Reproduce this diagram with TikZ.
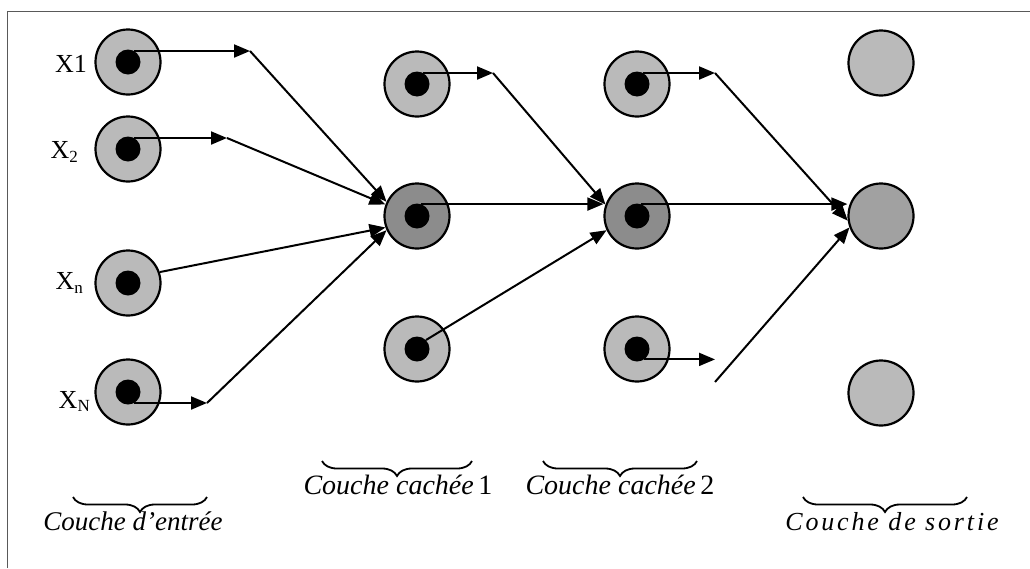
\documentclass[tikz,border=0pt]{standalone}
\usepackage{fontspec}
\setmainfont{Liberation Serif}
\usetikzlibrary{arrows.meta,decorations.pathreplacing}

\tikzset{
  neuron/.style={circle, draw=black, line width=2.2pt, minimum size=65pt, inner sep=0pt},
  lightn/.style={neuron, fill=black!27},
  midn/.style={neuron, fill=black!37},
  darkn/.style={neuron, fill=black!45},
  core/.style={circle, fill=black, minimum size=25pt, inner sep=0pt},
  conn/.style={line width=2pt, -{Triangle[length=16pt,width=13pt]}},
  frame/.style={line width=1pt, draw=black!65},
  xlbl/.style={font=\fontsize{26}{26}\selectfont, inner sep=0pt},
  layer/.style={font=\fontsize{27}{27}\selectfont\itshape, inner sep=0pt},
  lbrace/.style={decorate, decoration={brace, mirror, amplitude=15pt}, line width=1.8pt},
}
\newcommand{\sbs}[2][-4pt]{\raisebox{#1}{\fontsize{17}{17}\selectfont #2}}

\begin{document}
\begin{tikzpicture}[x=1pt,y=-1pt]
  \useasboundingbox (0,0) rectangle (1030,568);
  \draw[frame] (7,568) -- (7,11) -- (1030,11);

  % input layer
  \node[lightn] (x1) at (128,62) {};
  \node[lightn] (x2) at (128,149) {};
  \node[lightn] (xn) at (128,283) {};
  \node[lightn] (xN) at (128,392) {};
  \node[core] (x1d) at (x1) {};
  \node[core] (x2d) at (x2) {};
  \node[core] (xnd) at (xn) {};
  \node[core] (xNd) at (xN) {};

  % hidden layer 1
  \node[lightn] (h1t) at (417,84) {};
  \node[darkn]  (h1m) at (417,216) {};
  \node[lightn] (h1b) at (417,349) {};
  \node[core] (h1td) at (h1t) {};
  \node[core] (h1md) at (h1m) {};
  \node[core] (h1bd) at (h1b) {};

  % hidden layer 2
  \node[lightn] (h2t) at (637,84) {};
  \node[darkn]  (h2m) at (637,216) {};
  \node[lightn] (h2b) at (637,349) {};
  \node[core] (h2td) at (h2t) {};
  \node[core] (h2md) at (h2m) {};
  \node[core] (h2bd) at (h2b) {};

  % output layer
  \node[lightn] (ot) at (881,63) {};
  \node[midn]   (om) at (881,216) {};
  \node[lightn] (ob) at (881,393) {};

  % input labels
  \node[xlbl, anchor=base east] (lx1) at (87,72) {X1};
  \node[xlbl, anchor=base east] (lx2) at (78,158) {X\sbs{2}};
  \node[xlbl, anchor=base east] (lxn) at (83,289) {X\sbs{n}};
  \node[xlbl, anchor=base east] (lxN) at (90,408) {X\sbs[-3pt]{N}};

  % bend points of the connectors
  \coordinate (t1) at (250,0);
  \coordinate (t2) at (227,0);
  \coordinate (t4) at (207,0);
  \coordinate (t5) at (493,0);
  \coordinate (t8) at (715,0);
  \coordinate (t10) at (715,0);
  \coordinate (f11) at (715,382);

  % input -> hidden 1
  \draw[conn] (x1d.60) -- (x1d.60 -| t1);
  \draw[conn] (x1d.60 -| t1) -- (h1m.155);
  \draw[conn] (x2d.60) -- (x2d.60 -| t2);
  \draw[conn] (x2d.60 -| t2) -- (h1m.160);
  \draw[conn] (xn.19) -- (h1m.200);
  \draw[conn] (xNd.-60) -- (xNd.-60 -| t4);
  \draw[conn] (xNd.-60 -| t4) -- (h1m.205);

  % hidden 1 -> hidden 2
  \draw[conn] (h1td.60) -- (h1td.60 -| t5);
  \draw[conn] (h1td.60 -| t5) -- (h2m.160);
  \draw[conn] (h1md.70) -- (h1md.70 -| h2m.west);
  \draw[conn] (h1bd.45) -- (h2m.205);

  % hidden 2 -> output
  \draw[conn] (h2td.60) -- (h2td.60 -| t8);
  \draw[conn] (h2td.60 -| t8) -- (om.188);
  \draw[conn] (h2md.70) -- (h2md.70 -| om.west);
  \draw[conn] (h2bd.-55) -- (h2bd.-55 -| t10);
  \draw[conn] (f11) -- (om.200);

  % layer names
  \draw[lbrace] (73,497) -- (207,497);
  \node[layer, anchor=base] (le) at (133,530) {Couche d'entrée};
  \draw[lbrace] (322,461) -- (472,461);
  \node[layer, anchor=base, font=\fontsize{28}{28}\selectfont\itshape] (lc1) at (398,494) {Couche cachée\,\upshape 1};
  \draw[lbrace] (543,461) -- (697,461);
  \node[layer, anchor=base, font=\fontsize{28}{28}\selectfont\itshape] (lc2) at (620,494) {Couche cachée\,\upshape 2};
  \draw[lbrace] (803,497) -- (967,497);
  \node[layer, anchor=base, font=\fontsize{26}{26}\selectfont\itshape\addfontfeature{LetterSpace=11}] (ls) at (892,530) {Couche de sortie};
\end{tikzpicture}
\end{document}
